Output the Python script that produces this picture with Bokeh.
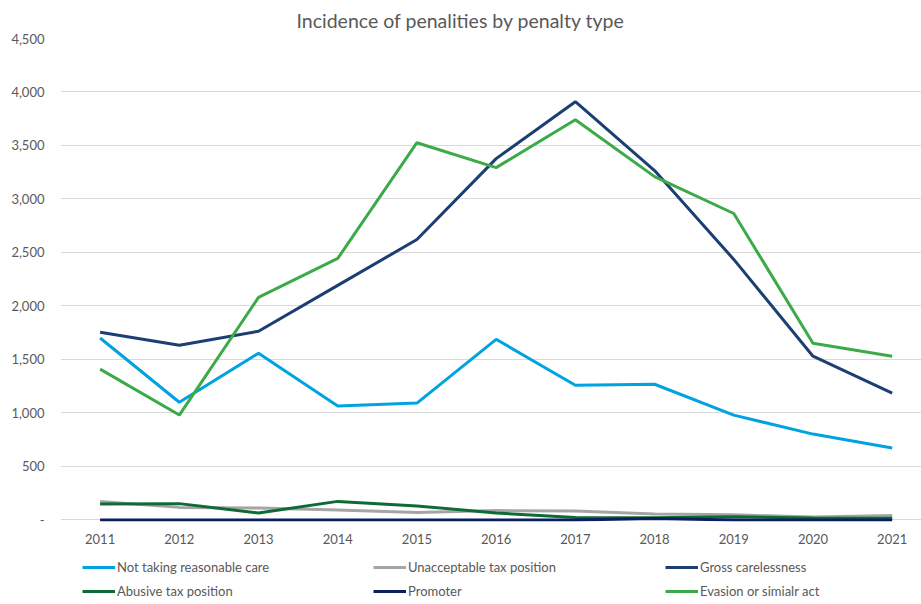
from bokeh.plotting import figure
from bokeh.layouts import column
from bokeh.models import Legend, LegendItem, NumeralTickFormatter, FixedTicker, Range1d
from bokeh.embed import file_html
from bokeh.resources import INLINE

years = [2011, 2012, 2013, 2014, 2015, 2016, 2017, 2018, 2019, 2020, 2021]
not_taking_care = [1700, 1100, 1558, 1065, 1092, 1688, 1259, 1268, 979, 802, 672]
unacceptable_tax = [173, 117, 112, 93, 68, 87, 84, 56, 47, 28, 40]
gross_carelessness = [1754, 1632, 1763, 2192, 2621, 3377, 3909, 3265, 2435, 1530, 1185]
abusive_tax = [149, 152, 65, 173, 131, 65, 22, 20, 30, 18, 15]
promoter = [0, 0, 0, 0, 0, 0, 0, 12, 0, 0, 0]
evasion = [1409, 980, 2080, 2444, 3526, 3293, 3741, 3209, 2864, 1651, 1530]

series = [
    ("Not taking reasonable care", not_taking_care, "#00A3E0"),
    ("Unacceptable tax position", unacceptable_tax, "#A5A5A5"),
    ("Gross carelessness", gross_carelessness, "#1B3F73"),
    ("Abusive tax position", abusive_tax, "#0E6B36"),
    ("Promoter", promoter, "#0A1F5C"),
    ("Evasion or simialr act", evasion, "#3CAA48"),
]

FONT = "Lato"
GREY = "#595959"

p = figure(width=921, height=550, output_backend="svg", toolbar_location=None,
           x_range=Range1d(2010.5, 2021.37), y_range=Range1d(-15, 4500),
           min_border_left=60, min_border_right=0, min_border_top=37, min_border_bottom=29,
           title="Incidence of penalities by penalty type")
p.title.align = "left"
p.title.offset = 236
p.title.text_font = FONT
p.title.text_font_size = "19.5px"
p.title.text_font_style = "normal"
p.title.text_color = GREY
p.title.standoff = 13
p.outline_line_color = None

for name, vals, col in series:
    p.line(years, vals, line_color=col, line_width=3)

p.xaxis.ticker = FixedTicker(ticks=years)
p.xaxis.axis_line_color = None
p.xaxis.major_tick_line_color = None
p.xaxis.minor_tick_line_color = None
p.xaxis.major_label_standoff = 6
p.xaxis.major_label_text_font = FONT
p.xaxis.major_label_text_font_size = "13px"
p.xaxis.major_label_text_color = GREY

p.yaxis.ticker = FixedTicker(ticks=list(range(0, 4501, 500)))
p.yaxis.formatter = NumeralTickFormatter(format="0,0")
p.yaxis.major_label_overrides = {0: "-"}
p.yaxis.axis_line_color = None
p.yaxis.major_tick_line_color = None
p.yaxis.minor_tick_line_color = None
p.yaxis.major_label_standoff = 10
p.yaxis.major_label_text_font = FONT
p.yaxis.major_label_text_font_size = "13px"
p.yaxis.major_label_text_color = GREY

p.xgrid.grid_line_color = None
p.ygrid.grid_line_color = "#D9D9D9"
p.ygrid.grid_line_width = 1

# legend strip below the chart
q = figure(width=921, height=54, output_backend="svg", toolbar_location=None,
           x_range=Range1d(0, 1), y_range=Range1d(0, 1),
           min_border=0, min_border_left=0, min_border_right=0,
           min_border_top=0, min_border_bottom=0)
q.axis.visible = False
q.grid.visible = False
q.outline_line_color = None

nan = float("nan")
swatches = []
for name, vals, col in series:
    r = q.line(x=[nan], y=[nan], line_color=col, line_width=3)
    swatches.append((name, r))

cols_x = [22, 313, 605]
for ci in range(3):
    items = [LegendItem(label=swatches[ci][0], renderers=[swatches[ci][1]]),
             LegendItem(label=swatches[ci + 3][0], renderers=[swatches[ci + 3][1]])]
    lg = Legend(items=items, location=(cols_x[ci], 3), orientation="vertical",
                padding=0, margin=0, spacing=4, glyph_width=33, glyph_height=20,
                label_height=20, label_standoff=2, border_line_color=None,
                background_fill_alpha=0, label_text_font=FONT,
                label_text_font_size="13px", label_text_color=GREY)
    q.add_layout(lg, "center")

layout = column(p, q, spacing=0)
open("out.html", "w").write(file_html(layout, INLINE))
